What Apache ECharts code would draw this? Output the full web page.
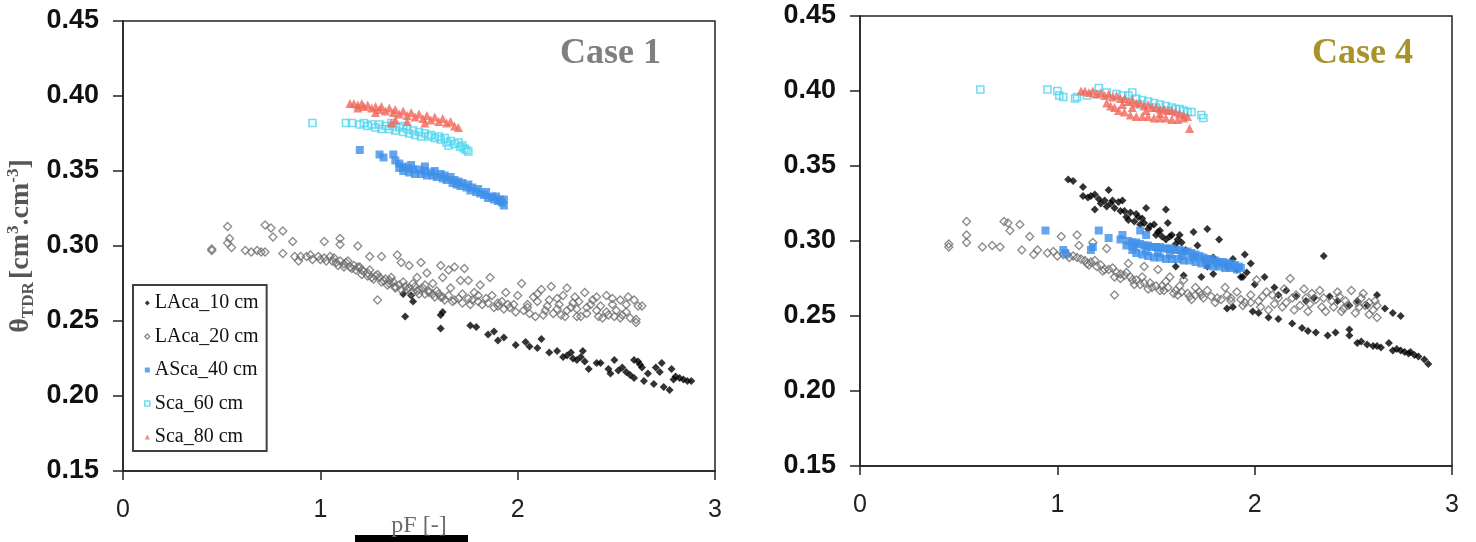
<!DOCTYPE html>
<html>
<head>
<meta charset="utf-8">
<script src="https://cdn.jsdelivr.net/npm/echarts@6/dist/echarts.min.js"></script>
<style>html,body{margin:0;padding:0;background:#fff;}#c{width:1476px;height:542px;}</style>
</head>
<body>
<div id="c"></div>
<script>
var seriesNames = ['LAca_10 cm','LAca_20 cm','ASca_40 cm','Sca_60 cm','Sca_80 cm'];
var xTicks = [0,1,2,3];
var yTicks = [0.15,0.20,0.25,0.30,0.35,0.40,0.45];
var panelTitles = ['Case 1','Case 4'];

// ---- Case 1 ----
var c1_laca10 = [[1.42,0.268],[1.46,0.267],[1.47,0.263],[1.43,0.253],[1.61,0.254],[1.62,0.256],[1.61,0.245],[1.76,0.247],[1.79,0.246],[1.85,0.241],[1.88,0.243],[1.90,0.237],[1.93,0.239],[1.99,0.234],[2.04,0.236],[2.06,0.233],[2.10,0.232],[2.12,0.238],[2.16,0.229],[2.20,0.230],[2.23,0.226],[2.25,0.227],[2.27,0.229],[2.28,0.225],[2.30,0.224],[2.32,0.226],[2.33,0.230],[2.34,0.223],[2.36,0.218],[2.40,0.222],[2.42,0.222],[2.46,0.218],[2.47,0.215],[2.49,0.224],[2.51,0.217],[2.53,0.219],[2.55,0.216],[2.57,0.214],[2.59,0.212],[2.59,0.224],[2.61,0.223],[2.62,0.221],[2.63,0.219],[2.64,0.210],[2.66,0.215],[2.69,0.208],[2.70,0.219],[2.72,0.216],[2.73,0.222],[2.74,0.206],[2.77,0.204],[2.78,0.218],[2.79,0.211],[2.80,0.213],[2.82,0.212],[2.84,0.211],[2.86,0.210],[2.88,0.210]];
var c1_laca20 = [[0.45,0.298],[0.45,0.297],[0.53,0.313],[0.54,0.305],[0.53,0.302],[0.55,0.299],[0.62,0.297],[0.65,0.296],[0.68,0.297],[0.70,0.296],[0.72,0.296],[0.72,0.314],[0.75,0.312],[0.76,0.306],[0.81,0.310],[0.81,0.295],[0.86,0.303],[0.87,0.293],[0.89,0.290],[0.90,0.293],[0.93,0.293],[0.95,0.294],[0.96,0.291],[0.99,0.293],[1.02,0.303],[1.02,0.292],[1.05,0.293],[1.07,0.292],[1.10,0.305],[1.10,0.301],[1.08,0.289],[1.12,0.288],[1.14,0.290],[1.16,0.285],[1.19,0.300],[1.19,0.286],[1.21,0.284],[1.24,0.282],[1.25,0.293],[1.26,0.279],[1.29,0.281],[1.29,0.264],[1.31,0.293],[1.32,0.277],[1.35,0.275],[1.36,0.279],[1.38,0.273],[1.39,0.294],[1.41,0.289],[1.42,0.276],[1.44,0.271],[1.45,0.287],[1.48,0.273],[1.49,0.279],[1.50,0.268],[1.51,0.289],[1.53,0.274],[1.54,0.282],[1.55,0.269],[1.57,0.275],[1.59,0.270],[1.61,0.287],[1.61,0.266],[1.62,0.279],[1.65,0.284],[1.66,0.272],[1.68,0.286],[1.68,0.264],[1.71,0.277],[1.72,0.268],[1.73,0.285],[1.75,0.277],[1.76,0.261],[1.78,0.269],[1.80,0.267],[1.81,0.274],[1.84,0.265],[1.86,0.279],[1.87,0.267],[1.90,0.260],[1.92,0.263],[1.94,0.269],[1.96,0.259],[1.98,0.261],[2.00,0.267],[2.02,0.275],[2.03,0.257],[2.05,0.261],[2.08,0.266],[2.09,0.253],[2.10,0.263],[2.12,0.271],[2.14,0.257],[2.16,0.264],[2.17,0.273],[2.18,0.255],[2.21,0.261],[2.23,0.267],[2.24,0.253],[2.25,0.272],[2.27,0.259],[2.29,0.266],[2.30,0.253],[2.31,0.263],[2.34,0.269],[2.35,0.255],[2.37,0.261],[2.40,0.266],[2.41,0.253],[2.42,0.260],[2.45,0.267],[2.46,0.254],[2.48,0.261],[2.49,0.253],[2.52,0.264],[2.53,0.254],[2.55,0.261],[2.57,0.252],[2.59,0.264],[2.60,0.251],[2.61,0.260],[2.63,0.260],[2.60,0.249],[1.10,0.290],[1.13,0.289],[1.17,0.287],[1.20,0.286],[1.22,0.283],[1.25,0.284],[1.28,0.280],[1.30,0.279],[1.33,0.278],[1.35,0.277],[1.37,0.276],[1.40,0.274],[1.43,0.273],[1.45,0.272],[1.47,0.275],[1.50,0.271],[1.52,0.272],[1.55,0.270],[1.57,0.268],[1.60,0.268],[1.62,0.266],[1.65,0.267],[1.70,0.265],[1.75,0.265],[1.80,0.263],[1.85,0.262],[1.90,0.262],[1.95,0.261],[2.05,0.259],[2.15,0.260],[2.20,0.258],[2.25,0.257],[2.30,0.258],[2.35,0.259],[2.40,0.257],[2.45,0.256],[2.50,0.257],[2.55,0.256],[2.10,0.268],[2.20,0.265],[2.28,0.262],[2.38,0.264],[2.48,0.265],[2.56,0.266],[1.00,0.291],[1.03,0.290],[1.06,0.290],[1.09,0.287],[1.12,0.286],[1.15,0.286],[1.18,0.284],[1.21,0.281],[1.24,0.280],[1.27,0.278],[1.31,0.276],[1.34,0.274],[1.38,0.272],[1.41,0.271],[1.46,0.269],[1.49,0.270],[1.53,0.268],[1.58,0.266],[1.63,0.264],[1.67,0.263],[1.72,0.262],[1.77,0.264],[1.82,0.261],[1.88,0.259],[1.93,0.258],[1.99,0.256],[2.06,0.255],[2.13,0.254],[2.22,0.254],[2.32,0.253],[2.43,0.252],[2.52,0.252]];
var c1_asca40 = [[1.20,0.364],[1.30,0.361],[1.32,0.359],[1.37,0.361],[1.38,0.357],[1.40,0.355],[1.40,0.352],[1.42,0.353],[1.42,0.350],[1.44,0.352],[1.45,0.349],[1.46,0.354],[1.47,0.351],[1.48,0.348],[1.50,0.351],[1.51,0.348],[1.53,0.350],[1.53,0.353],[1.54,0.347],[1.56,0.349],[1.57,0.347],[1.58,0.350],[1.59,0.346],[1.61,0.348],[1.62,0.345],[1.63,0.347],[1.64,0.344],[1.66,0.346],[1.67,0.342],[1.68,0.344],[1.69,0.341],[1.70,0.343],[1.71,0.340],[1.72,0.342],[1.74,0.339],[1.75,0.341],[1.76,0.337],[1.77,0.339],[1.79,0.336],[1.80,0.338],[1.81,0.335],[1.83,0.334],[1.84,0.336],[1.85,0.332],[1.87,0.333],[1.88,0.331],[1.89,0.333],[1.90,0.330],[1.91,0.331],[1.92,0.329],[1.93,0.327],[1.93,0.331]];
var c1_sca60 = [[0.96,0.382],[1.13,0.382],[1.16,0.382],[1.20,0.381],[1.22,0.382],[1.24,0.380],[1.26,0.381],[1.28,0.379],[1.30,0.381],[1.31,0.378],[1.33,0.380],[1.35,0.378],[1.36,0.382],[1.37,0.380],[1.38,0.377],[1.40,0.379],[1.42,0.376],[1.42,0.380],[1.44,0.378],[1.45,0.375],[1.47,0.377],[1.48,0.374],[1.50,0.376],[1.51,0.373],[1.53,0.375],[1.55,0.373],[1.56,0.374],[1.58,0.372],[1.60,0.373],[1.61,0.371],[1.63,0.372],[1.64,0.369],[1.65,0.367],[1.66,0.370],[1.68,0.368],[1.70,0.369],[1.71,0.366],[1.72,0.367],[1.73,0.365],[1.74,0.364],[1.75,0.363]];
var c1_sca80 = [[1.15,0.395],[1.17,0.395],[1.19,0.394],[1.19,0.392],[1.21,0.395],[1.22,0.393],[1.24,0.394],[1.26,0.392],[1.28,0.393],[1.28,0.389],[1.30,0.391],[1.31,0.393],[1.33,0.390],[1.35,0.392],[1.36,0.382],[1.37,0.389],[1.38,0.391],[1.38,0.384],[1.40,0.388],[1.42,0.390],[1.44,0.387],[1.44,0.383],[1.46,0.389],[1.48,0.386],[1.50,0.388],[1.52,0.385],[1.53,0.382],[1.54,0.387],[1.56,0.384],[1.58,0.386],[1.60,0.383],[1.62,0.385],[1.64,0.382],[1.66,0.383],[1.68,0.380],[1.70,0.379]];

// ---- Case 4 ----
var c4_laca10 = [[1.055,0.341],[1.08,0.340],[1.13,0.336],[1.13,0.330],[1.155,0.329],[1.17,0.330],[1.19,0.331],[1.19,0.321],[1.21,0.328],[1.22,0.325],[1.24,0.327],[1.25,0.323],[1.26,0.334],[1.27,0.325],[1.28,0.327],[1.29,0.322],[1.31,0.326],[1.32,0.320],[1.33,0.327],[1.34,0.320],[1.35,0.316],[1.36,0.314],[1.37,0.319],[1.39,0.313],[1.40,0.318],[1.41,0.316],[1.42,0.311],[1.43,0.315],[1.44,0.312],[1.45,0.322],[1.46,0.308],[1.47,0.310],[1.49,0.311],[1.50,0.304],[1.51,0.306],[1.52,0.307],[1.53,0.303],[1.55,0.321],[1.55,0.301],[1.56,0.312],[1.57,0.303],[1.58,0.304],[1.60,0.298],[1.61,0.301],[1.62,0.304],[1.63,0.299],[1.65,0.294],[1.69,0.306],[1.71,0.297],[1.76,0.308],[1.82,0.301],[1.79,0.289],[1.86,0.283],[1.89,0.288],[1.94,0.276],[1.96,0.279],[1.98,0.285],[1.95,0.291],[2.00,0.271],[2.05,0.276],[2.10,0.269],[2.12,0.264],[2.16,0.267],[2.21,0.263],[2.26,0.260],[2.30,0.262],[2.35,0.290],[2.38,0.263],[2.42,0.260],[2.48,0.257],[2.52,0.260],[2.57,0.257],[2.62,0.264],[2.66,0.255],[2.70,0.252],[2.74,0.250],[1.86,0.255],[1.89,0.256],[1.99,0.253],[2.02,0.252],[2.07,0.249],[2.12,0.248],[2.19,0.245],[2.24,0.242],[2.27,0.240],[2.31,0.239],[2.37,0.237],[2.41,0.239],[2.48,0.237],[2.48,0.241],[2.52,0.232],[2.54,0.233],[2.57,0.231],[2.60,0.230],[2.62,0.230],[2.64,0.229],[2.68,0.232],[2.70,0.227],[2.72,0.228],[2.74,0.227],[2.76,0.226],[2.78,0.225],[2.79,0.226],[2.81,0.224],[2.83,0.223],[2.86,0.221],[2.88,0.218],[1.64,0.277],[1.73,0.276],[1.79,0.278],[1.91,0.281],[1.93,0.276],[1.76,0.283],[1.60,0.283]];
var c4_laca20 = [[0.45,0.298],[0.45,0.296],[0.54,0.313],[0.54,0.304],[0.54,0.299],[0.62,0.296],[0.67,0.297],[0.71,0.296],[0.73,0.313],[0.75,0.312],[0.76,0.307],[0.81,0.311],[0.82,0.294],[0.86,0.303],[0.88,0.291],[0.90,0.294],[0.95,0.292],[1.00,0.290],[1.02,0.303],[1.06,0.289],[1.10,0.304],[1.11,0.297],[1.12,0.288],[1.15,0.285],[1.18,0.299],[1.20,0.283],[1.24,0.281],[1.25,0.295],[1.29,0.264],[1.29,0.276],[1.32,0.278],[1.36,0.285],[1.38,0.274],[1.42,0.271],[1.44,0.283],[1.48,0.269],[1.51,0.281],[1.54,0.267],[1.57,0.276],[1.61,0.264],[1.64,0.274],[1.67,0.263],[1.70,0.269],[1.74,0.262],[1.76,0.267],[1.81,0.262],[1.85,0.269],[1.88,0.260],[1.91,0.266],[1.94,0.257],[1.98,0.264],[2.01,0.274],[2.02,0.260],[2.06,0.266],[2.07,0.254],[2.12,0.262],[2.14,0.256],[2.18,0.275],[2.19,0.262],[2.23,0.257],[2.25,0.268],[2.27,0.253],[2.31,0.261],[2.33,0.267],[2.36,0.253],[2.39,0.260],[2.42,0.266],[2.44,0.253],[2.46,0.260],[2.49,0.267],[2.51,0.252],[2.54,0.262],[2.56,0.257],[2.58,0.251],[2.61,0.260],[2.62,0.249],[2.62,0.257],[1.05,0.291],[1.08,0.290],[1.14,0.287],[1.17,0.286],[1.22,0.284],[1.26,0.281],[1.30,0.279],[1.34,0.277],[1.37,0.276],[1.40,0.274],[1.44,0.272],[1.47,0.272],[1.50,0.270],[1.53,0.270],[1.56,0.269],[1.60,0.267],[1.63,0.266],[1.66,0.265],[1.70,0.264],[1.73,0.264],[1.78,0.263],[1.83,0.261],[1.88,0.262],[1.93,0.261],[1.98,0.259],[2.04,0.263],[2.10,0.258],[2.16,0.259],[2.21,0.264],[2.28,0.258],[2.35,0.262],[2.40,0.256],[2.47,0.257],[2.53,0.256],[2.58,0.259],[2.15,0.268],[2.29,0.265],[2.43,0.263],[2.55,0.265],[0.98,0.293],[1.03,0.291],[1.10,0.289],[1.16,0.284],[1.19,0.287],[1.23,0.280],[1.28,0.282],[1.32,0.275],[1.35,0.279],[1.39,0.271],[1.43,0.276],[1.46,0.268],[1.52,0.267],[1.55,0.273],[1.59,0.265],[1.62,0.270],[1.68,0.261],[1.72,0.266],[1.80,0.259],[1.86,0.264],[1.95,0.259],[2.03,0.256],[2.09,0.264],[2.20,0.254],[2.26,0.262],[2.34,0.256],[2.45,0.255],[2.52,0.259],[2.60,0.254]];
var c4_asca40 = [[0.94,0.307],[1.04,0.292],[1.03,0.294],[1.17,0.294],[1.18,0.296],[1.21,0.307],[1.26,0.302],[1.32,0.301],[1.33,0.304],[1.35,0.297],[1.42,0.307],[1.45,0.304],[1.36,0.300],[1.38,0.299],[1.40,0.299],[1.42,0.298],[1.44,0.297],[1.46,0.297],[1.48,0.296],[1.50,0.296],[1.52,0.296],[1.54,0.295],[1.56,0.295],[1.58,0.295],[1.60,0.294],[1.62,0.294],[1.64,0.293],[1.66,0.293],[1.68,0.292],[1.70,0.291],[1.72,0.290],[1.74,0.289],[1.76,0.288],[1.78,0.288],[1.80,0.287],[1.82,0.286],[1.84,0.286],[1.86,0.285],[1.88,0.285],[1.90,0.284],[1.92,0.283],[1.38,0.294],[1.40,0.292],[1.43,0.291],[1.46,0.290],[1.49,0.289],[1.52,0.289],[1.55,0.288],[1.58,0.288],[1.61,0.288],[1.64,0.287],[1.67,0.287],[1.70,0.286],[1.73,0.285],[1.76,0.284],[1.79,0.283],[1.82,0.283],[1.85,0.282],[1.88,0.282],[1.91,0.281],[1.93,0.282],[1.39,0.296],[1.45,0.293],[1.51,0.292],[1.57,0.291],[1.63,0.290],[1.69,0.289],[1.75,0.287],[1.81,0.285],[1.87,0.283]];
var c4_sca60 = [[0.61,0.401],[0.95,0.401],[1.00,0.400],[1.01,0.397],[1.03,0.396],[1.09,0.395],[1.10,0.396],[1.15,0.397],[1.19,0.398],[1.21,0.402],[1.25,0.399],[1.30,0.398],[1.33,0.397],[1.35,0.393],[1.36,0.397],[1.38,0.399],[1.40,0.395],[1.42,0.391],[1.43,0.394],[1.46,0.393],[1.49,0.392],[1.50,0.389],[1.52,0.391],[1.55,0.390],[1.56,0.387],[1.58,0.389],[1.60,0.388],[1.62,0.388],[1.64,0.387],[1.66,0.386],[1.68,0.386],[1.73,0.384],[1.74,0.382]];
var c4_sca80 = [[1.12,0.400],[1.14,0.400],[1.16,0.399],[1.18,0.400],[1.20,0.398],[1.22,0.399],[1.24,0.397],[1.25,0.392],[1.26,0.398],[1.27,0.390],[1.28,0.396],[1.29,0.389],[1.30,0.397],[1.31,0.387],[1.32,0.395],[1.33,0.391],[1.34,0.395],[1.34,0.386],[1.36,0.393],[1.37,0.384],[1.38,0.394],[1.38,0.389],[1.40,0.392],[1.40,0.383],[1.42,0.392],[1.43,0.383],[1.44,0.390],[1.45,0.387],[1.46,0.391],[1.46,0.383],[1.48,0.389],[1.49,0.382],[1.50,0.389],[1.52,0.388],[1.52,0.385],[1.52,0.382],[1.54,0.388],[1.55,0.382],[1.56,0.387],[1.58,0.387],[1.58,0.381],[1.60,0.386],[1.61,0.381],[1.62,0.385],[1.64,0.384],[1.64,0.382],[1.66,0.383],[1.67,0.375]];

var caseData = [
  [c1_laca10, c1_laca20, c1_asca40, c1_sca60, c1_sca80],
  [c4_laca10, c4_laca20, c4_asca40, c4_sca60, c4_sca80]
];

var styles = [
  {symbol:'diamond', symbolSize:8, itemStyle:{color:'#000000'}},
  {symbol:'diamond', symbolSize:8, itemStyle:{color:'rgba(255,255,255,0)', borderColor:'#6e6e6e', borderWidth:1.3}},
  {symbol:'rect', symbolSize:8, itemStyle:{color:'#3f8ee8'}},
  {symbol:'rect', symbolSize:7, itemStyle:{color:'rgba(255,255,255,0)', borderColor:'#4fd4ef', borderWidth:1.6}},
  {symbol:'triangle', symbolSize:9, itemStyle:{color:'#f2665a'}}
];

var grids = [
  {left:123, top:21, width:592, height:450, show:true, borderColor:'#222', borderWidth:1.5, outerBoundsMode:'none', containLabel:false},
  {left:860, top:16, width:592, height:450, show:true, borderColor:'#222', borderWidth:1.5, outerBoundsMode:'none', containLabel:false}
];

function xAx(i){
  return {
    gridIndex:i, type:'value', min:xTicks[0], max:xTicks[xTicks.length-1], interval:1,
    name: i===0 ? 'pF [-]' : '', nameLocation:'middle', nameGap:43, nameMoveOverlap:false,
    nameTextStyle:{fontFamily:'Liberation Serif', fontSize:24, color:'#6b6b6b', verticalAlign:'top'},
    axisLine:{show:true, lineStyle:{color:'#222', width:1.5}},
    axisTick:{show:true, inside:false, length:9, lineStyle:{color:'#222', width:1.5}},
    axisLabel:{margin:27, fontFamily:'Liberation Sans', fontSize:25, color:'#222'},
    splitLine:{show:false}
  };
}
function yAx(i){
  return {
    gridIndex:i, type:'value', min:yTicks[0], max:yTicks[yTicks.length-1], interval:0.05,
    name: i===0 ? '{t|θ}{s|TDR} {t|[cm}{p|3}{t|.cm}{p|-3}{t|]}' : '',
    nameLocation:'middle', nameGap:86, nameMoveOverlap:false,
    nameTextStyle:{
      rich:{
        t:{fontFamily:'Liberation Serif', fontWeight:'bold', fontSize:28, lineHeight:32, color:'#555'},
        s:{fontFamily:'Liberation Serif', fontWeight:'bold', fontSize:17, color:'#555', verticalAlign:'bottom'},
        p:{fontFamily:'Liberation Serif', fontWeight:'bold', fontSize:17, color:'#555', verticalAlign:'top'}
      }
    },
    axisLine:{show:true, lineStyle:{color:'#222', width:1.5}},
    axisTick:{show:true, inside:false, length:10, lineStyle:{color:'#222', width:1.5}},
    axisLabel:{margin:24, fontFamily:'Liberation Sans', fontWeight:'bold', fontSize:27, color:'#111',
      formatter:function(v){return v.toFixed(2);}},
    splitLine:{show:false}
  };
}

var series = [];
for (var g=0; g<2; g++){
  for (var s=0; s<seriesNames.length; s++){
    series.push({
      type:'scatter', name:seriesNames[s], xAxisIndex:g, yAxisIndex:g,
      data:caseData[g][s], symbol:styles[s].symbol, symbolSize:styles[s].symbolSize,
      itemStyle:styles[s].itemStyle, animation:false, silent:true
    });
  }
}

var legendData = seriesNames.map(function(n, i){
  return {name:n, icon:styles[i].symbol, itemStyle:styles[i].itemStyle};
});

var chart = echarts.init(document.getElementById('c'), null, {renderer:'canvas'});
chart.setOption({
  backgroundColor:'#ffffff',
  animation:false,
  title:[
    {text:panelTitles[0], left:560, top:36, padding:0, textStyle:{fontFamily:'Liberation Serif', fontWeight:'bold', fontSize:36, color:'#7f7f7f'}},
    {text:panelTitles[1], left:1312, top:36, padding:0, textStyle:{fontFamily:'Liberation Serif', fontWeight:'bold', fontSize:36, color:'#a8922c'}}
  ],
  legend:{
    data:legendData, orient:'vertical', left:133, top:285,
    padding:[7,8,3,11], itemGap:11.5, itemWidth:5, itemHeight:5,
    borderColor:'#404040', borderWidth:2, backgroundColor:'#fff',
    textStyle:{fontFamily:'Liberation Serif', fontSize:20, color:'#111', lineHeight:22},
    selectedMode:false
  },
  grid:grids,
  xAxis:[xAx(0), xAx(1)],
  yAxis:[yAx(0), yAx(1)],
  series:series,
  graphic:[{type:'rect', shape:{x:355, y:535, width:113, height:7}, style:{fill:'#000'}}]
});
</script>
</body>
</html>
